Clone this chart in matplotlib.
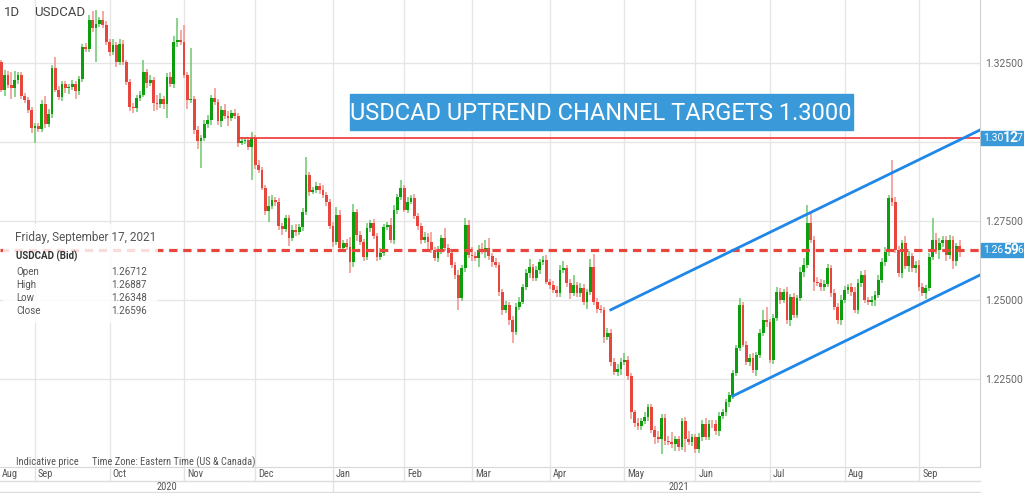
import numpy as np
import pandas as pd
import matplotlib
matplotlib.use("Agg")
import matplotlib.pyplot as plt
from matplotlib.patches import Rectangle
from matplotlib.transforms import blended_transform_factory

plt.rcParams['font.family'] = ['Roboto', 'DejaVu Sans']

# daily candles, USDCAD bid
dates = pd.bdate_range("2020-08-18", "2021-09-17")
first_open = 1.3253
closes = [
    1.3165, 1.3212, 1.3180, 1.3171, 1.3196, 1.3212, 1.3146, 1.3133, 1.3101, 1.3045,
    1.3051, 1.3041, 1.3120, 1.3057, 1.3089, 1.3234, 1.3165, 1.3142, 1.3184, 1.3171,
    1.3174, 1.3184, 1.3161, 1.3199, 1.3300, 1.3294, 1.3386, 1.3361, 1.3373, 1.3386,
    1.3370, 1.3316, 1.3285, 1.3307, 1.3253, 1.3310, 1.3253, 1.3190, 1.3111, 1.3108,
    1.3139, 1.3149, 1.3221, 1.3187, 1.3196, 1.3124, 1.3120, 1.3136, 1.3120, 1.3206,
    1.3184, 1.3316, 1.3323, 1.3316, 1.3212, 1.3133, 1.3136, 1.3038, 1.3003, 1.3013,
    1.3057, 1.3070, 1.3139, 1.3127, 1.3067, 1.3101, 1.3082, 1.3076, 1.3092, 1.3082,
    1.2997, 1.3003, 1.3007, 1.2984, 1.3013, 1.2928, 1.2912, 1.2855, 1.2782, 1.2798,
    1.2817, 1.2811, 1.2735, 1.2725, 1.2760, 1.2697, 1.2722, 1.2716, 1.2732, 1.2779,
    1.2896, 1.2842, 1.2849, 1.2861, 1.2849, 1.2833, 1.2811, 1.2735, 1.2684, 1.2770,
    1.2665, 1.2681, 1.2669, 1.2621, 1.2779, 1.2706, 1.2684, 1.2637, 1.2729, 1.2744,
    1.2703, 1.2637, 1.2650, 1.2732, 1.2738, 1.2691, 1.2785, 1.2826, 1.2855, 1.2785,
    1.2811, 1.2823, 1.2766, 1.2735, 1.2691, 1.2700, 1.2684, 1.2659, 1.2634, 1.2659,
    1.2697, 1.2665, 1.2650, 1.2612, 1.2580, 1.2507, 1.2602, 1.2738, 1.2643, 1.2640,
    1.2634, 1.2659, 1.2653, 1.2665, 1.2640, 1.2621, 1.2612, 1.2526, 1.2469, 1.2485,
    1.2437, 1.2400, 1.2479, 1.2495, 1.2542, 1.2586, 1.2605, 1.2571, 1.2596, 1.2621,
    1.2627, 1.2558, 1.2548, 1.2533, 1.2523, 1.2596, 1.2602, 1.2555, 1.2523, 1.2548,
    1.2523, 1.2539, 1.2495, 1.2526, 1.2605, 1.2495, 1.2473, 1.2469, 1.2384, 1.2397,
    1.2305, 1.2273, 1.2283, 1.2305, 1.2311, 1.2258, 1.2144, 1.2112, 1.2100, 1.2116,
    1.2131, 1.2160, 1.2090, 1.2065, 1.2059, 1.2128, 1.2055, 1.2052, 1.2043, 1.2059,
    1.2036, 1.2116, 1.2059, 1.2052, 1.2065, 1.2027, 1.2068, 1.2106, 1.2068, 1.2109,
    1.2106, 1.2084, 1.2134, 1.2144, 1.2176, 1.2198, 1.2270, 1.2349, 1.2485, 1.2359,
    1.2305, 1.2318, 1.2280, 1.2327, 1.2397, 1.2437, 1.2431, 1.2311, 1.2444, 1.2526,
    1.2501, 1.2526, 1.2437, 1.2510, 1.2454, 1.2507, 1.2589, 1.2612, 1.2744, 1.2691,
    1.2558, 1.2555, 1.2542, 1.2552, 1.2602, 1.2523, 1.2479, 1.2437, 1.2501, 1.2533,
    1.2542, 1.2526, 1.2469, 1.2555, 1.2580, 1.2501, 1.2495, 1.2501, 1.2517, 1.2564,
    1.2621, 1.2653, 1.2823, 1.2811, 1.2659, 1.2586, 1.2681, 1.2608, 1.2640, 1.2602,
    1.2612, 1.2542, 1.2523, 1.2539, 1.2637, 1.2691, 1.2659, 1.2681, 1.2691, 1.2643,
    1.2691, 1.2624, 1.26712, 1.26596,
]
# wick length beyond the body, in pips
upper_wick = [
    5, 15, 12, 40, 30, 10, 8, 10, 8, 10,
    10, 8, 12, 25, 15, 10, 35, 12, 8, 10,
    10, 12, 8, 10, 10, 12, 15, 30, 44, 10,
    30, 12, 10, 20, 10, 15, 12, 8, 10, 12,
    10, 12, 38, 10, 15, 10, 25, 20, 10, 12,
    15, 20, 70, 30, 54, 8, 160, 10, 12, 10,
    12, 15, 10, 32, 10, 12, 20, 15, 10, 12,
    10, 12, 10, 8, 20, 10, 15, 10, 8, 30,
    15, 10, 12, 10, 8, 10, 15, 20, 10, 12,
    57, 10, 8, 12, 10, 15, 10, 8, 12, 25,
    15, 10, 12, 30, 25, 10, 12, 10, 15, 10,
    12, 10, 15, 10, 8, 20, 15, 10, 25, 10,
    15, 10, 12, 8, 10, 15, 12, 30, 10, 12,
    10, 30, 12, 10, 8, 15, 10, 20, 15, 25,
    12, 15, 20, 25, 30, 10, 12, 8, 10, 12,
    10, 12, 10, 15, 10, 12, 25, 10, 12, 10,
    12, 15, 10, 12, 10, 15, 20, 10, 12, 30,
    10, 15, 12, 10, 25, 40, 10, 12, 10, 15,
    12, 10, 15, 10, 20, 12, 10, 8, 15, 12,
    15, 10, 12, 10, 20, 12, 10, 15, 30, 10,
    12, 10, 15, 25, 10, 12, 10, 15, 20, 10,
    10, 15, 12, 10, 10, 12, 10, 8, 20, 10,
    12, 10, 15, 10, 12, 30, 40, 10, 12, 15,
    12, 10, 15, 10, 12, 10, 15, 20, 57, 35,
    10, 15, 12, 10, 12, 10, 12, 10, 15, 12,
    10, 12, 15, 10, 12, 15, 10, 12, 10, 15,
    12, 15, 10, 120, 15, 12, 10, 20, 15, 10,
    10, 15, 12, 10, 12, 69, 20, 15, 12, 10,
    15, 12, 10, 17,
]
lower_wick = [
    8, 20, 10, 35, 30, 12, 10, 8, 10, 15,
    48, 10, 8, 12, 10, 12, 8, 10, 12, 15,
    20, 10, 25, 12, 8, 10, 10, 12, 108, 8,
    10, 8, 12, 10, 15, 10, 8, 10, 12, 15,
    12, 10, 8, 15, 10, 25, 20, 12, 15, 44,
    10, 12, 15, 10, 8, 30, 8, 12, 25, 85,
    10, 12, 15, 10, 12, 20, 10, 25, 8, 10,
    12, 8, 10, 10, 104, 12, 10, 8, 12, 35,
    10, 12, 15, 20, 10, 25, 10, 12, 10, 15,
    10, 12, 8, 10, 15, 10, 12, 10, 15, 10,
    10, 12, 10, 35, 15, 20, 10, 12, 10, 15,
    10, 15, 10, 12, 10, 10, 15, 12, 10, 8,
    10, 8, 10, 12, 15, 10, 25, 10, 12, 15,
    12, 10, 15, 10, 12, 38, 10, 12, 10, 15,
    10, 30, 8, 20, 12, 15, 10, 12, 15, 10,
    15, 36, 12, 10, 8, 10, 15, 12, 10, 15,
    10, 8, 12, 10, 15, 12, 10, 15, 20, 10,
    15, 12, 10, 25, 10, 12, 15, 10, 20, 10,
    15, 10, 12, 20, 10, 12, 20, 15, 10, 12,
    10, 15, 12, 20, 10, 45, 15, 10, 12, 20,
    15, 12, 40, 10, 15, 12, 10, 15, 10, 12,
    12, 10, 15, 12, 10, 15, 10, 12, 10, 8,
    10, 15, 12, 20, 10, 12, 15, 10, 12, 10,
    15, 10, 12, 20, 10, 12, 10, 15, 10, 12,
    30, 10, 12, 15, 10, 12, 10, 12, 15, 10,
    15, 12, 10, 12, 15, 10, 12, 15, 20, 10,
    10, 12, 15, 12, 10, 12, 15, 10, 20, 12,
    15, 12, 10, 20, 12, 10, 15, 30, 12, 20,
    12, 25, 15, 25,
]

target_level = 1.30127
target_start = "2020-11-24"
last_price = 1.26596
chan_upper_dates = ["2021-04-27", "2021-09-27"]
chan_upper_prices = [1.2469, 1.3038]
chan_lower_dates = ["2021-06-16", "2021-09-27"]
chan_lower_prices = [1.2196, 1.2579]
price_ticks = [1.225, 1.25, 1.275, 1.30, 1.325]
info_date = "Friday, September 17, 2021"
info_rows = [("Open", "1.26712"), ("High", "1.26887"), ("Low", "1.26348"), ("Close", "1.26596")]
title = "USDCAD UPTREND CHANNEL TARGETS 1.3000"

GREEN = "#0c9e0c"
RED = "#e8453c"
BLUE = "#3a9ad9"
GRID = "#e6e6e6"
TXT = "#555555"
W, H = 1024, 493


def day_index(d):
    return np.busday_count(np.datetime64(dates[0].date()), np.datetime64(pd.Timestamp(d).date()))


def px(x, y):
    # pixel (from top-left) -> figure fraction
    return x / W, 1 - y / H


df = pd.DataFrame({"close": closes}, index=dates)
df["open"] = [first_open] + closes[:-1]
df["high"] = df[["open", "close"]].max(axis=1) + np.array(upper_wick) * 1e-4
df["low"] = df[["open", "close"]].min(axis=1) - np.array(lower_wick) * 1e-4
df.loc[dates[-1], ["high", "low"]] = [1.26887, 1.26348]
x = np.arange(len(df))
up = df["close"] >= df["open"]

fig = plt.figure(figsize=(W / 100, H / 100), dpi=100)
fig.patch.set_facecolor("white")
ax = fig.add_axes([0, 26 / H, 980 / W, 467 / H])
ax.set_xlim(-0.33, 289.0)
ax.set_ylim(1.19715, 1.34494)

month_starts = [i for i in range(1, len(dates)) if dates[i].month != dates[i - 1].month]
for i in month_starts:
    ax.axvline(i, color=GRID, lw=1, zorder=0)
for p in price_ticks:
    ax.axhline(p, color=GRID, lw=1, zorder=0)

# candles
body = (df["close"] - df["open"]).abs().clip(lower=0.0003)
bottom = df[["open", "close"]].min(axis=1)
for mask, col, wcol in [(up, GREEN, "#6cc86c"), (~up, RED, "#f1928c")]:
    ax.vlines(x[mask], df["low"][mask], df["high"][mask], colors=wcol, lw=1.1, zorder=2)
    ax.bar(x[mask], body[mask], bottom=bottom[mask], width=0.82, color=col, lw=0, zorder=3)

# levels and channel
ax.hlines(target_level, day_index(target_start), 289.0, colors="#f03434", lw=1.2, zorder=4)
ax.axhline(last_price, color=RED, lw=2.3, dashes=(2.6, 1.8), zorder=4)
ax.plot([day_index(d) for d in chan_upper_dates], chan_upper_prices, color="#1f87e8", lw=2, zorder=5)
ax.plot([day_index(d) for d in chan_lower_dates], chan_lower_prices, color="#1f87e8", lw=2, zorder=5)

for s in ["top", "left"]:
    ax.spines[s].set_visible(False)
ax.spines["right"].set_color("#d0d0d0")
ax.spines["bottom"].set_color("#d8d8d8")
ax.set_xticks([])
ax.yaxis.tick_right()
ax.set_yticks(price_ticks)
ax.set_yticklabels(["" if abs(p - 1.30) < 1e-9 else f"{p:.5f}" for p in price_ticks])
ax.tick_params(axis="y", length=0, pad=4, labelsize=7.5, labelcolor="#666666")

# date axis rows
bt = blended_transform_factory(ax.transData, fig.transFigure)
for yy in [481, 492]:
    fig.add_artist(plt.Line2D([0, 980 / W], [1 - yy / H] * 2, color="#dddddd", lw=1))
narrow = ["Liberation Sans Narrow", "Roboto Condensed", "DejaVu Sans"]
ax.text(-0.33 + 0.5, 1 - 474 / H, dates[0].strftime("%b"), transform=bt, fontsize=7.5,
        color=TXT, va="center", family=narrow)
for i in month_starts:
    fig.add_artist(plt.Line2D([i, i], [1 - 467 / H, 1 - 481 / H], transform=bt, color="#e2e2e2", lw=1))
    ax.text(i + 0.9, 1 - 474 / H, dates[i].strftime("%b"), transform=bt, fontsize=7.5,
            color=TXT, va="center", family=narrow)
jan = [i for i in month_starts if dates[i].month == 1][0]
fig.add_artist(plt.Line2D([jan, jan], [1 - 481 / H, 1 - 492 / H], transform=bt, color="#e2e2e2", lw=1))
jan_fx = ax.transData.transform((jan, 0))[0] / W
fig.text(jan_fx / 2, 1 - 487 / H, "2020", fontsize=7.5, color=TXT, ha="center", va="center", family=narrow)
fig.text((jan_fx + 1) / 2, 1 - 487 / H, "2021", fontsize=7.5, color=TXT, ha="center", va="center", family=narrow)

# header texts
fig.text(*px(4, 12), "1D", fontsize=9.5, color="#444444", va="center")
fig.text(*px(34, 12), "USDCAD", fontsize=9.5, color="#444444", va="center")
fig.text(*px(16, 462), "Indicative price", fontsize=7.5, color=TXT, va="center", family=narrow)
fig.text(*px(92, 462), "Time Zone: Eastern Time (US & Canada)", fontsize=7.5, color=TXT, va="center", family=narrow)

# title box
bx, by = px(350, 130)
fig.add_artist(Rectangle((bx, by), 503 / W, 36 / H, transform=fig.transFigure, color=BLUE, zorder=6))
fig.text(*px(601, 113), title, fontsize=17, color="white", ha="center", va="center", zorder=7)

# info box
ix, iy = px(3, 323)
fig.add_artist(Rectangle((ix, iy), 155 / W, 99 / H, transform=fig.transFigure,
                         facecolor="white", alpha=0.82, lw=0, zorder=6))
fig.text(*px(15, 237), info_date, fontsize=8.5, color=TXT, va="center", zorder=7)
fig.text(*px(16, 256), "USDCAD (Bid)", fontsize=7, color="#333333", va="center", weight="bold", zorder=7)
for k, (lab, val) in enumerate(info_rows):
    yy = 272 + k * 13
    fig.text(*px(16, yy), lab, fontsize=7, color=TXT, va="center", zorder=7)
    fig.text(*px(147, yy), val, fontsize=7, color=TXT, va="center", ha="right", zorder=7)


# price tags on the right axis
def price_tag(price):
    yy = ax.transData.transform((0, price))[1]
    ypx = H - yy
    tx, ty = px(981, ypx + 7)
    fig.add_artist(Rectangle((tx, ty), 43 / W, 14 / H, transform=fig.transFigure, color=BLUE, zorder=6))
    s = f"{price:.5f}"
    fig.text(*px(983, ypx), s[:4], fontsize=7.5, color="white", va="center", zorder=7)
    fig.text(*px(1003, ypx), s[4:6], fontsize=10, color="white", va="center", weight="bold", zorder=7)
    fig.text(*px(1017, ypx), s[6], fontsize=7.5, color="white", va="center", zorder=7)


price_tag(target_level)
price_tag(last_price)

fig.savefig("out.png", dpi=100)
